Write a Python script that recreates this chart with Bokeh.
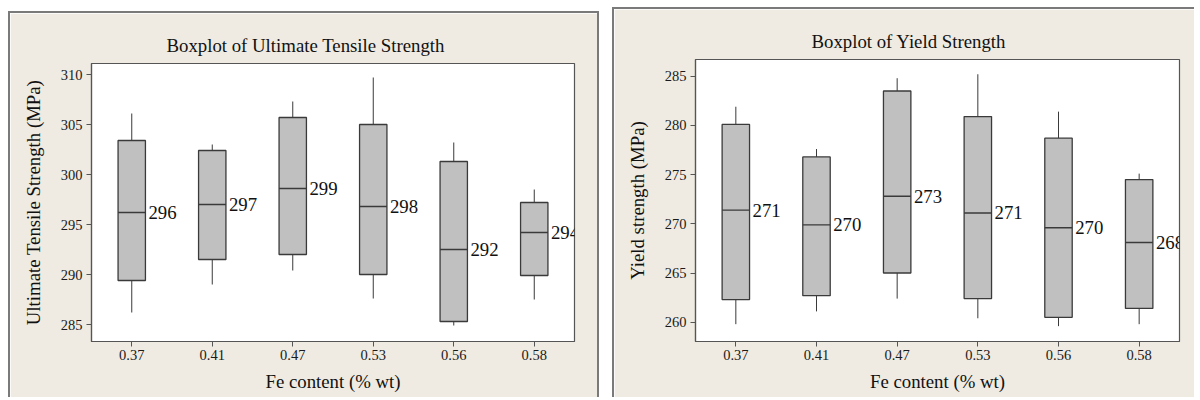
from bokeh.plotting import figure
from bokeh.models import ColumnDataSource, FactorRange, Range1d
from bokeh.core.properties import value
from bokeh.transform import dodge
from bokeh.layouts import row
from bokeh.embed import file_html
from bokeh.resources import INLINE

fe = ["0.37", "0.41", "0.47", "0.53", "0.56", "0.58"]

uts_low = [286.2, 289.0, 290.4, 287.6, 284.9, 287.5]
uts_q1 = [289.4, 291.5, 292.0, 290.0, 285.3, 289.9]
uts_med = [296.2, 297.0, 298.6, 296.8, 292.5, 294.2]
uts_q3 = [303.4, 302.4, 305.7, 305.0, 301.3, 297.2]
uts_high = [306.1, 303.0, 307.3, 309.7, 303.2, 298.5]
uts_labels = ["296", "297", "299", "298", "292", "294"]

ys_low = [259.8, 261.1, 262.4, 260.4, 259.6, 259.8]
ys_q1 = [262.3, 262.7, 265.0, 262.4, 260.5, 261.4]
ys_med = [271.4, 269.9, 272.8, 271.1, 269.6, 268.1]
ys_q3 = [280.1, 276.8, 283.5, 280.9, 278.7, 274.5]
ys_high = [281.9, 277.6, 284.8, 285.2, 281.4, 275.1]
ys_labels = ["271", "270", "273", "271", "270", "268"]

FONT = "Liberation Serif"
BG = "#EFEBE2"
FRAME = "#555555"
BOXLINE = "#3a3a3a"
HALF = 0.17


def make_panel(title, ylabel, low, q1, med, q3, high, labels, yr,
               width, height, mb_left, mb_right, mb_top, mb_bottom,
               title_offset, styles, margin):
    src = ColumnDataSource(dict(fe=fe, low=low, q1=q1, med=med, q3=q3,
                                high=high, lab=labels))
    p = figure(x_range=FactorRange(factors=fe), y_range=Range1d(*yr),
               width=width, height=height, output_backend="svg",
               toolbar_location=None, min_border_left=mb_left,
               min_border_right=mb_right, min_border_top=mb_top,
               min_border_bottom=mb_bottom, margin=margin)
    p.styles = styles
    p.background_fill_color = "white"
    p.border_fill_color = BG
    p.outline_line_color = FRAME
    p.outline_line_width = 1.2
    p.xgrid.visible = False
    p.ygrid.visible = False

    p.title.text = title
    p.title.text_font = FONT
    p.title.text_font_size = "18.8px"
    p.title.text_font_style = "normal"
    p.title.text_color = "#111111"
    p.title.align = "left"
    p.title.offset = title_offset
    p.title.standoff = 15

    for ax in (p.xaxis, p.yaxis):
        ax.axis_line_color = FRAME
        ax.axis_line_width = 1.2
        ax.major_tick_line_color = FRAME
        ax.major_tick_in = 0
        ax.major_tick_out = 5
        ax.minor_tick_line_color = None
        ax.major_label_text_font = FONT
        ax.major_label_text_font_size = "14.5px"
        ax.major_label_text_color = "#1a1a1a"
        ax.axis_label_text_font = FONT
        ax.axis_label_text_font_size = "18.8px"
        ax.axis_label_text_font_style = "normal"
        ax.axis_label_text_color = "#111111"
    p.xaxis.axis_label = "Fe content (% wt)"
    p.yaxis.axis_label = ylabel
    p.xaxis.major_label_standoff = 3
    p.yaxis.major_label_standoff = 4
    p.xaxis.axis_label_standoff = 8
    p.yaxis.axis_label_standoff = 14

    p.segment(x0="fe", y0="q3", x1="fe", y1="high", source=src,
              line_color=BOXLINE, line_width=1)
    p.segment(x0="fe", y0="low", x1="fe", y1="q1", source=src,
              line_color=BOXLINE, line_width=1)
    p.vbar(x="fe", width=2 * HALF, bottom="q1", top="q3", source=src,
           fill_color="#C0C0C0", line_color=BOXLINE, line_width=1.3)
    p.segment(x0=dodge("fe", -HALF, range=p.x_range), y0="med",
              x1=dodge("fe", HALF, range=p.x_range), y1="med", source=src,
              line_color=BOXLINE, line_width=1.3)
    p.text(x=dodge("fe", HALF, range=p.x_range), y="med", text="lab",
           source=src, x_offset=3, text_baseline="middle", text_align="left",
           text_font=value(FONT), text_font_size=value("18.8px"),
           text_color="#111111")
    return p


border = "2px solid #7a7a7a"
p1 = make_panel("Boxplot of Ultimate Tensile Strength",
                "Ultimate Tensile Strength (MPa)",
                uts_low, uts_q1, uts_med, uts_q3, uts_high, uts_labels,
                (283.3, 311.1), 591, 386, 81, 27, 49, 58, 75,
                {"border-top": border, "border-left": border,
                 "border-right": border}, (11, 0, 0, 8))
p2 = make_panel("Boxplot of Yield Strength", "Yield strength (MPa)",
                ys_low, ys_q1, ys_med, ys_q3, ys_high, ys_labels,
                (258.04, 286.7), 582, 390, 81, 17, 50, 58, 116,
                {"border-top": border, "border-left": border}, (7, 0, 0, 0))

layout = row(p1, p2, spacing=13)
open("out.html", "w").write(file_html(layout, INLINE))
